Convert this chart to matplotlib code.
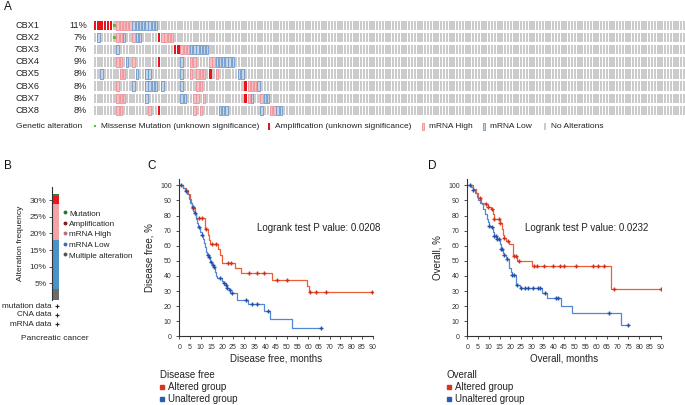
"""CBX family: oncoprint, alteration frequency and Kaplan-Meier curves."""
import matplotlib
matplotlib.use("Agg")
import matplotlib.pyplot as plt
import matplotlib.transforms as mtransforms
import numpy as np

plt.rcParams["font.family"] = ["Liberation Sans", "DejaVu Sans"]

W, H = 685, 405
TXT = "#222222"

# ---- panel A: oncoprint -------------------------------------------------
GENES = ["CBX1", "CBX2", "CBX3", "CBX4", "CBX5", "CBX6", "CBX7", "CBX8"]
PCTS = ["11%", "7%", "7%", "9%", "8%", "8%", "8%", "8%"]
N_SAMPLES = 186
AMP = [[0, 1, 2, 3, 4, 5], [20], [25, 26], [20], [36], [47], [47], [20]]
MISSENSE = [[6], [6], [], [], [], [], [], []]
MRNA_HIGH = [
    [7, 8, 9, 10, 11],
    [7, 8, 12, 21, 22, 23, 24],
    [27, 28, 29],
    [7, 8, 12, 30, 31, 36, 37],
    [8, 9, 30, 32, 33, 34, 38],
    [7, 32, 33, 48, 49, 50],
    [7, 8, 9, 31, 32, 34, 48, 52],
    [7, 8, 17, 31, 33, 55, 56],
]
MRNA_LOW = [
    [12, 13, 14, 15, 16, 17, 18, 19],
    [1, 9, 13, 14],
    [7, 30, 31, 32, 33, 34, 35],
    [10, 27, 38, 39, 40, 41, 42, 43],
    [2, 13, 16, 17, 27, 45, 46],
    [12, 16, 17, 18, 19, 21, 27, 51],
    [16, 27, 28, 49, 53, 54],
    [39, 40, 41, 52, 57, 58],
]

# ---- panel B: stacked alteration frequency ------------------------------
B_TYPES = ["Multiple alteration", "mRNA Low", "mRNA High", "Amplification", "Mutation"]
B_VALUES = [3.3, 14.7, 10.7, 2.6, 0.5]
B_COLORS = ["#6b6b6b", "#4b93c7", "#f4a3a7", "#e8191d", "#1f8a3d"]
B_DOTS = ["#555555", "#3c72aa", "#b8707c", "#8e1b1b", "#1f7a3a"]
B_TICKS = [5, 10, 15, 20, 25, 30]

# ---- panel C: disease free ----------------------------------------------
C_RED_T = [0, 1.5, 3, 4, 4.8, 5.3, 6, 7.3, 8, 11.8, 13.3, 14, 14.5, 18, 19, 20, 26, 28.5, 43, 59.5, 60.2]
C_RED_S = [100, 98.5, 97, 94, 91, 88, 85.2, 80.9, 78.6, 71.1, 67, 63.5, 60.9, 57.5, 54, 48.6, 45.5, 41.7, 37, 33.3, 29.6]
C_RED_END = 90
C_RED_CENS = [6.2, 9.3, 10.5, 12.3, 15, 17.1, 22.8, 23.9, 32.5, 36, 39.6, 45.3, 50.3, 60.6, 63.5, 68.2, 89.9]
C_BLUE_T = [0, 1.5, 2.5, 3.5, 4.3, 5, 5.8, 6.5, 7, 7.8, 8.3, 8.8, 9.8, 10.5, 11, 11.5, 11.8, 12.2, 13, 13.8,
            14.5, 15.2, 15.8, 16.5, 17, 17.5, 20, 20.5, 21.5, 22, 23, 23.8, 26.7, 32, 39.4, 42, 52.3]
C_BLUE_S = [100, 98.5, 96.2, 94, 91, 88, 85.7, 83, 81.5, 78, 75, 72.5, 69.3, 67, 64.5, 61.5, 59, 55.7, 54, 52.4,
            49.5, 47.2, 45.7, 42.5, 40, 38.4, 36.7, 35, 34, 32.2, 30.5, 28.9, 24.1, 21.2, 17, 11.3, 5.7]
C_BLUE_END = 66
C_BLUE_CENS = [0.6, 2.9, 6.2, 7.3, 9.3, 10.5, 13.2, 14, 14.9, 15.5, 16.1, 18.9, 20.8, 21.7, 22.3, 23.6, 24.4,
               31, 33.7, 36.3, 41.1, 66]

# ---- panel D: overall ---------------------------------------------------
D_RED_T = [0, 2.5, 4, 4.8, 6.5, 8.5, 9.5, 11, 11.8, 12.3, 15, 16, 16.5, 17, 18, 19.5, 21.4, 23.3, 30, 66.8]
D_RED_S = [100, 97.5, 95, 91.4, 88, 87.4, 85.9, 84.1, 81, 77.5, 74.8, 71, 67.1, 65.3, 63.4, 60.9, 53, 50, 46.8, 31.3]
D_RED_END = 90
D_RED_CENS = [5.9, 8.7, 9.8, 11.3, 12.4, 14.9, 15.2, 17.2, 18.8, 21.9, 22.7, 24.1, 31, 32.3, 35.9, 39.8,
              43.2, 45, 50.5, 58.7, 60.7, 63.7, 68.3, 90]
D_BLUE_T = [0, 1.5, 2.5, 3.5, 4.5, 5.1, 6, 6.7, 7.5, 8.3, 9, 9.8, 10.2, 11, 12, 12.6, 13.8, 15.3, 15.5, 16.5,
            17, 18, 18.6, 19.2, 19.6, 20.2, 20.7, 22.7, 24.5, 34.6, 37, 43.5, 48.9, 71.4]
D_BLUE_S = [100, 99, 97, 95, 92.5, 90.3, 88.5, 87.4, 84, 81, 78, 75.5, 73.3, 72.2, 69, 66.7, 64.5, 61, 57.6, 55.5,
            53.9, 52.5, 51.2, 48, 45, 42.5, 40.6, 34, 31.8, 28.7, 25.2, 19.9, 15.2, 7.7]
D_BLUE_END = 75
D_BLUE_CENS = [1.2, 2.8, 10.2, 11.3, 12.6, 13.4, 14, 14.9, 15.5, 16.1, 17.2, 18.6, 20.7, 21.9, 23.3, 24.8,
               26.9, 28.4, 30.4, 33.1, 33.9, 36.2, 41.3, 42.4, 66, 75]

GREY = "#cbcbcb"
RED_LINE, RED_MARK = "#ec5f33", "#d3301c"
BLUE_LINE, BLUE_MARK = "#5287d6", "#2450a8"


def box(x0, y0, x1, y1):
    """pixel box (top-left origin) -> figure fraction rect"""
    return [x0 / W, 1 - y1 / H, (x1 - x0) / W, (y1 - y0) / H]


def km(ax, t, s, end, cens, line, mark):
    t = list(t) + [end]
    s = list(s) + [s[-1]]
    ax.step(t, s, where="post", color=line, lw=0.9, zorder=2)
    idx = np.searchsorted(t[:-1], cens, side="right") - 1
    ax.plot(cens, np.array(s)[idx], ls="none", marker="+", ms=3, mew=1.0, color=mark, zorder=3)


def style_km(ax, xlabel, ylabel):
    ax.set_xlim(0, 90)
    ax.set_ylim(0, 104)
    ax.set_xticks(range(0, 91, 5))
    ax.set_yticks(range(0, 101, 10))
    for side in ("top", "right"):
        ax.spines[side].set_visible(False)
    for side in ("left", "bottom"):
        ax.spines[side].set_linewidth(0.8)
        ax.spines[side].set_color("#333333")
    ax.tick_params(axis="both", length=2.5, width=0.6, pad=3, labelsize=5, colors="#333333")
    ax.set_xlabel(xlabel, fontsize=7, color=TXT, labelpad=2)
    ax.set_ylabel(ylabel, fontsize=7, color=TXT, labelpad=4)
    ax.patch.set_visible(False)


def main() -> None:
    fig = plt.figure(figsize=(W / 100, H / 100), dpi=100)

    # overlay for free text, in pixel coordinates
    lay = fig.add_axes([0, 0, 1, 1], zorder=10)
    lay.set_xlim(0, W)
    lay.set_ylim(H, 0)
    lay.axis("off")

    # ---------------- A ----------------
    ax = fig.add_axes(box(94, 19.3, 685, 116.5))
    ax.set_xlim(0, (685 - 94) / 3.2)
    ax.set_ylim(len(GENES) - 0.5, -0.5)
    ax.axis("off")
    cols = np.arange(N_SAMPLES)
    bw, bh = 0.72, 0.77
    for r in range(len(GENES)):
        bot = r - bh / 2
        ax.bar(cols, bh, width=bw, bottom=bot, align="edge", color=GREY, lw=0)
        ax.bar(AMP[r], bh, width=bw, bottom=bot, align="edge", color="#e8141c", lw=0)
        ax.bar(MRNA_HIGH[r], bh, width=bw, bottom=bot, align="edge",
               color="#f6c0c2", edgecolor="#ef9097", lw=0.6)
        ax.bar(MRNA_LOW[r], bh, width=bw, bottom=bot, align="edge",
               color="#c9d3df", edgecolor="#6a98cf", lw=0.6)
        ax.bar(MISSENSE[r], 0.26, width=bw, bottom=r - 0.13, align="edge", color="#5cbf2a", lw=0)

    tr = mtransforms.blended_transform_factory(lay.transData, ax.transData)
    for r, (g, p) in enumerate(zip(GENES, PCTS)):
        ax.text(16, r, g, transform=tr, va="center", ha="left", fontsize=6.6, color=TXT)
        ax.text(87, r, p, transform=tr, va="center", ha="right", fontsize=6.6, color=TXT)

    ly = 126
    lay.text(16, ly, "Genetic alteration", va="center", fontsize=6.0, color=TXT)
    legend_items = [
        (95, "#5cbf2a", None, "Missense Mutation (unknown significance)", 0.35),
        (269, "#e8141c", None, "Amplification (unknown significance)", 1),
        (423, "#f6c0c2", "#ef9097", "mRNA High", 1),
        (484, "#c9d3df", "#6a98cf", "mRNA Low", 1),
        (545, GREY, None, "No Alterations", 1),
    ]
    for x, fc, ec, label, frac in legend_items:
        hgt = 7 * frac
        lay.add_patch(plt.Rectangle((x - 1.2, ly - hgt / 2), 2.4, hgt, facecolor=fc,
                                    edgecolor=ec if ec else "none", lw=0.6))
        lay.text(x + 6, ly, label, va="center", fontsize=6.0, color=TXT)

    # ---------------- B ----------------
    axb = fig.add_axes(box(52, 186.7, 60, 300))
    axb.set_xlim(0, 1)
    axb.set_ylim(0, 34)
    bottom = 0
    for v, c in zip(B_VALUES, B_COLORS):
        axb.bar(0.5, v, width=0.75, bottom=bottom, color=c, lw=0)
        bottom += v
    axb.set_xticks([])
    axb.set_yticks(B_TICKS, [f"{v}%" for v in B_TICKS])
    for side in ("top", "right", "bottom"):
        axb.spines[side].set_visible(False)
    axb.spines["left"].set_linewidth(0.8)
    axb.spines["left"].set_color("#333333")
    axb.tick_params(axis="y", length=2.5, width=0.6, pad=1.5, labelsize=6, colors="#333333")
    axb.set_ylabel("Alteration frequency", fontsize=6, color=TXT, labelpad=4)
    axb.patch.set_visible(False)

    for i, (lab, col) in enumerate(zip(B_TYPES[::-1], B_DOTS[::-1])):
        ty = 214 + 10.5 * i
        lay.plot(65.5, ty - 1.8, marker="o", ms=1.8, color=col, ls="none")
        lay.text(69.3, ty, lab, va="center", fontsize=5.9, color=TXT)
    for i, lab in enumerate(["mutation data", "CNA data", "mRNA data"]):
        ty = 306 + 9 * i
        lay.text(52, ty, lab, va="center", ha="right", fontsize=5.9, color=TXT)
        lay.plot(57, ty, marker="+", ms=2.2, mew=0.8, color="#222222", ls="none")
    lay.text(55, 338, "Pancreatic cancer", va="center", ha="center", fontsize=6, color=TXT)

    # ---------------- C / D ----------------
    axc = fig.add_axes(box(179.3, 179.3, 372.7, 336.3))
    km(axc, C_RED_T, C_RED_S, C_RED_END, C_RED_CENS, RED_LINE, RED_MARK)
    km(axc, C_BLUE_T, C_BLUE_S, C_BLUE_END, C_BLUE_CENS, BLUE_LINE, BLUE_MARK)
    style_km(axc, "Disease free, months", "Disease free, %")

    axd = fig.add_axes(box(467.3, 179.3, 660.7, 336.3))
    km(axd, D_RED_T, D_RED_S, D_RED_END, D_RED_CENS, RED_LINE, RED_MARK)
    km(axd, D_BLUE_T, D_BLUE_S, D_BLUE_END, D_BLUE_CENS, BLUE_LINE, BLUE_MARK)
    style_km(axd, "Overall, months", "Overall, %")

    lay.text(257.3, 228.3, "Logrank test P value: 0.0208", va="center", fontsize=7, color=TXT)
    lay.text(525, 228.3, "Logrank test P value: 0.0232", va="center", fontsize=7, color=TXT)

    for x0, title in ((160, "Disease free"), (447, "Overall")):
        lay.text(x0, 375, title, va="center", fontsize=7, color=TXT)
        for j, (lab, col) in enumerate((("Altered group", "#d8341e"), ("Unaltered group", "#2a5db0"))):
            yy = 387 + 12 * j
            lay.plot(x0 + 2, yy, marker="s", ms=2.6, color=col, ls="none")
            lay.text(x0 + 8, yy, lab, va="center", fontsize=7, color=TXT)

    # panel letters
    for x, y, letter in ((3.5, 7.5, "A"), (4, 166, "B"), (147, 166, "C"), (428, 166, "D")):
        lay.text(x, y, letter, va="center", ha="left", fontsize=8.5, color="#111111")

    fig.savefig("out.png", dpi=100)
    plt.close(fig)


if __name__ == "__main__":
    main()
